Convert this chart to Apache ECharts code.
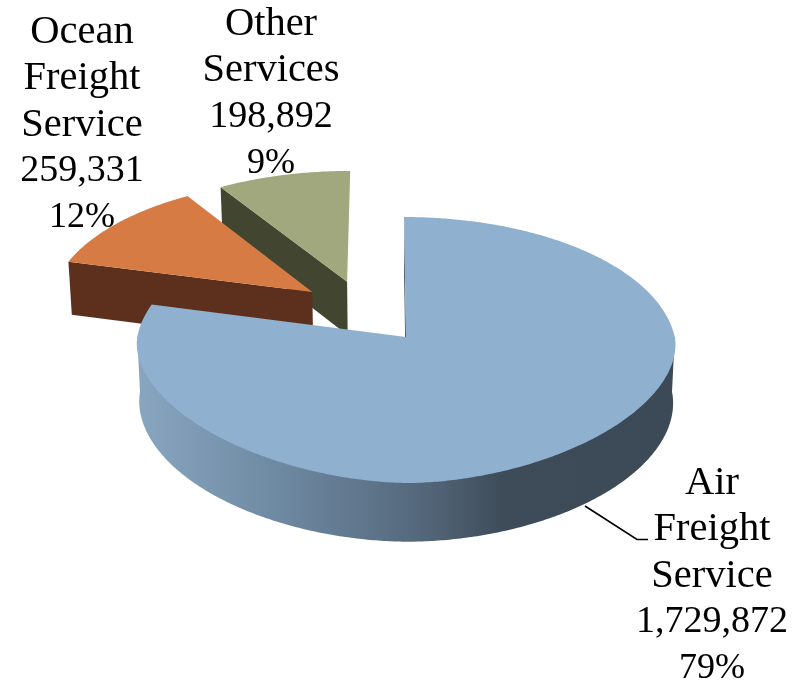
<!DOCTYPE html>
<html><head><meta charset="utf-8">
<style>html,body{margin:0;padding:0;background:#fff}#c{width:807px;height:685px}</style>
<script src="https://cdn.jsdelivr.net/npm/echarts@6/dist/echarts.min.js"></script>
</head><body><div id="c"></div>
<script>
// Data
const categories = ['Air\nFreight\nService', 'Ocean\nFreight\nService', 'Other\nServices'];
const values = [1729872, 259331, 198892];

// Styling and layout
const topColors = ['#8FB0CF', '#D67B43', '#A2A87E'];
const wallColors = ['#3C4A58', '#5C301C', '#424530'];
const explodeU = [0, -0.358, -0.225];
const explodeV = [0, 0.3535, 0.438];
const labelX = [712, 82, 271];
const labelY = [576, 125, 94];
const leader = [[585, 506], [637, 539.5], [648, 539.5]];
const FAMILY = '"Liberation Serif", serif';

const total = values.reduce((a, b) => a + b, 0);
const k = 0.0977;
const planes = {
  top: { a: -98.8, b: 337, s: 1, p: 1.8 },
  bottom: { a: -96.8, b: 392, s: 0.99, p: 1.9 }
};
function project(u, v, plane) {
  const p = planes[plane], d = 1 + k * v;
  return [406 + p.s * (268.7 * u - 2.2 * v) / d, (p.a * v + p.b) / d];
}
function startAngle(i) {
  let sum = 0;
  for (let j = 0; j < i; j++) sum += values[j];
  return sum / total * 2 * Math.PI;
}
function rim(t, plane) {
  const s = Math.sin(t), c = Math.cos(t), e = 2 / planes[plane].p;
  if (c >= 0) return [s, c];
  return [Math.sign(s) * Math.pow(Math.abs(s), e), -Math.pow(Math.abs(c), e)];
}
function arc(i, from, to, plane) {
  const pts = [], n = Math.max(2, Math.ceil(Math.abs(to - from) / 0.01));
  for (let s = 0; s <= n; s++) {
    const r = rim(from + (to - from) * s / n, plane);
    pts.push(project(explodeU[i] + r[0], explodeV[i] + r[1], plane));
  }
  return pts;
}
function renderItem(params, api) {
  const i = params.dataIndex;
  const a0 = startAngle(i), a1 = a0 + values[i] / total * 2 * Math.PI;
  const order = (values.length - i) * 10;
  const apexT = project(explodeU[i], explodeV[i], 'top');
  const apexB = project(explodeU[i], explodeV[i], 'bottom');
  const edgeT = arc(i, a0, a0, 'top')[0];
  const edgeB = arc(i, a0, a0, 'bottom')[0];
  const children = [];
  // radial wall at the start edge of the slice
  children.push({
    type: 'polygon', z2: order,
    shape: { points: [edgeT, apexT, apexB, edgeB] },
    style: { fill: wallColors[i] }
  });
  // curved outer side: the front half of the lower rim, closed behind the top face
  if (i === 0) {
    const q = Math.PI / 2;
    const lower = arc(i, q, 3 * q, 'bottom');
    children.push({
      type: 'polygon', z2: order + 1,
      shape: { points: lower.concat(arc(i, 3 * q, 3 * q, 'top'), arc(i, q, q, 'top')) },
      style: {
        fill: new echarts.graphic.LinearGradient(0, 0, 1, 0, [
          { offset: 0, color: '#89A6C1' },
          { offset: 0.23, color: '#718DA6' },
          { offset: 0.42, color: '#5F768C' },
          { offset: 0.53, color: '#54677A' },
          { offset: 0.68, color: '#3E4C5A' },
          { offset: 1, color: '#3C4956' }
        ])
      }
    });
  }
  // top face
  children.push({
    type: 'polygon', z2: order + 2,
    shape: { points: [apexT].concat(arc(i, a0, a1, 'top')) },
    style: { fill: topColors[i] }
  });
  // label
  const pct = Math.round(values[i] / total * 100) + '%';
  const words = categories[i].split('\n').map(w => '{w|' + w + '}');
  children.push({
    type: 'text', z2: 100,
    style: {
      x: labelX[i], y: labelY[i],
      text: words.concat('{n|' + values[i].toLocaleString('en-US') + '}', '{p|' + pct + '}').join('\n'),
      fill: '#000', align: 'center', verticalAlign: 'middle',
      rich: {
        w: { fontFamily: FAMILY, fontSize: 40.5, lineHeight: 46.3, fill: '#000' },
        n: { fontFamily: FAMILY, fontSize: 38, lineHeight: 46.3, fill: '#000' },
        p: { fontFamily: FAMILY, fontSize: 36, lineHeight: 46.3, fill: '#000' }
      }
    }
  });
  if (i === 0) {
    children.push({
      type: 'polyline', z2: 50,
      shape: { points: leader },
      style: { stroke: '#000', lineWidth: 1.6, fill: null }
    });
  }
  return { type: 'group', children };
}
const chart = echarts.init(document.getElementById('c'), null, { renderer: 'canvas' });
chart.setOption({
  backgroundColor: '#fff',
  animation: false,
  series: [{
    type: 'custom',
    coordinateSystem: 'none',
    renderItem,
    data: values.map((v, i) => ({ name: categories[i].replace(/\n/g, ' '), value: v }))
  }]
});
</script></body></html>
